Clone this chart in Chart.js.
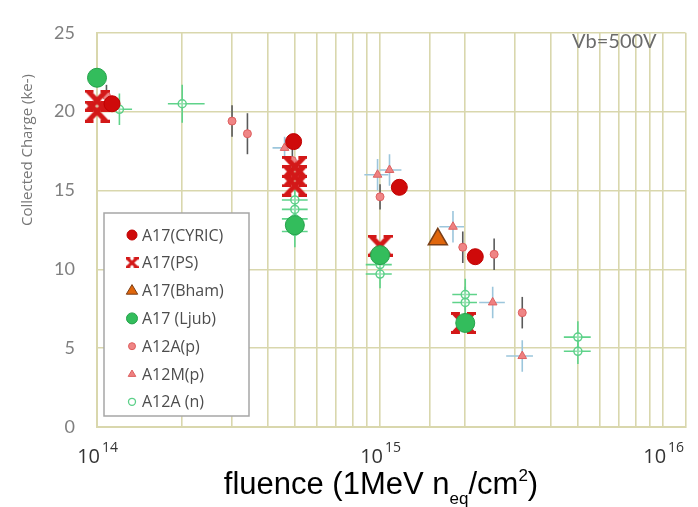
<!DOCTYPE html>
<html>
<head>
<meta charset="utf-8">
<script src="https://cdn.jsdelivr.net/npm/chart.js@4.4.1/dist/chart.umd.min.js"></script>
<style>
  html, body { margin: 0; padding: 0; background: #fff; }
  #wrap { position: relative; width: 698px; height: 507px; }
  #xTitle {
    position: absolute; left: 0; width: 762px; top: 468px;
    text-align: center; line-height: 32px;
    font-family: "Liberation Sans", Arial, sans-serif; font-size: 31px; color: #000;
  }
  #xTitle sub, #xTitle sup { font-size: 17px; vertical-align: baseline; position: relative; }
  #xTitle sub { top: 10px; }
  #xTitle sup { top: -13px; }
</style>
</head>
<body>
<div id="wrap">
  <canvas id="chart" width="698" height="507"></canvas>
  <div id="xTitle">fluence (1MeV n<sub>eq</sub>/cm<sup>2</sup>)</div>
</div>
<script>
// --- DATA ---
// A17(CYRIC)
const cyricX = [1.13e14, 4.95e14, 1.17e15, 2.17e15];
const cyricY = [20.5, 18.1, 15.2, 10.8];
// A17(PS)
const psX = [1.0e14, 1.0e14, 5.0e14, 5.0e14, 5.0e14, 1.0e15, 1.97e15];
const psY = [20.7, 20.0, 16.5, 15.9, 15.3, 11.5, 6.6];
// A17(Bham)
const bhamX = [1.6e15];
const bhamY = [11.9];
// A17 (Ljub)
const ljubX = [1.0e14, 5.0e14, 1.0e15, 2.0e15];
const ljubY = [22.15, 12.8, 10.9, 6.6];
// A12A(p)
const a12apX = [1.08e14, 3.0e14, 3.4e14, 4.9e14, 1.0e15, 1.96e15, 2.53e15, 3.18e15];
const a12apY = [21.0, 19.4, 18.6, 16.9, 14.6, 11.4, 10.95, 7.25];
const a12apYErr = [0.7, 1.0, 1.3, 0.8, 0.8, 1.0, 1.0, 1.0];
// A12M(p)
const a12mpX = [4.6e14, 9.8e14, 1.08e15, 1.81e15, 2.5e15, 3.18e15];
const a12mpY = [17.7, 16.0, 16.3, 12.7, 7.9, 4.5];
const a12mpXLo = [4.17e14, 8.8e14, 1.0e15, 1.62e15, 2.24e15, 2.79e15];
const a12mpXHi = [5.19e14, 1.07e15, 1.19e15, 1.98e15, 2.76e15, 3.47e15];
const a12mpYErr = [0.7, 1.0, 1.0, 1.0, 1.0, 1.0];
// A12A (n)
const a12anX = [1.2e14, 2.0e14, 5.0e14, 5.0e14, 5.0e14, 5.0e14, 1.0e15, 1.0e15, 2.0e15, 2.0e15, 5.0e15, 5.0e15];
const a12anY = [20.15, 20.5, 14.4, 13.8, 13.2, 12.4, 10.3, 9.7, 8.4, 7.9, 5.7, 4.8];
const a12anXLo = [1.09e14, 1.78e14, 4.5e14, 4.5e14, 4.5e14, 4.5e14, 8.9e14, 8.9e14, 1.8e15, 1.8e15, 4.46e15, 4.46e15];
const a12anXHi = [1.33e14, 2.4e14, 5.55e14, 5.55e14, 5.55e14, 5.55e14, 1.1e15, 1.1e15, 2.2e15, 2.2e15, 5.55e15, 5.55e15];
const a12anYErr = [1.0, 1.2, 0.7, 0.7, 0.7, 1.0, 0.9, 0.9, 1.0, 1.0, 1.0, 0.8];

const xTicksShown = [1e14, 1e15, 1e16];
const yMax = 25, yStep = 5;

// zip arrays into points (errors optional)
function pts(xs, ys, yErr, xLo, xHi) {
  return xs.map((x, i) => ({
    x: x, y: ys[i],
    yLo: yErr ? ys[i] - yErr[i] : null, yHi: yErr ? ys[i] + yErr[i] : null,
    xLo: xLo ? xLo[i] : null, xHi: xHi ? xHi[i] : null
  }));
}

// PS marker: thick X with flat caps on the tips
function makeCross(w, h, lw, capLw) {
  const c = document.createElement('canvas');
  c.width = w; c.height = h;
  const g = c.getContext('2d');
  g.strokeStyle = '#d31818';
  g.lineWidth = lw;
  const m = capLw / 2, ins = w * 0.14, cap = w * 0.36;
  g.beginPath();
  g.moveTo(ins, m); g.lineTo(w - ins, h - m);
  g.moveTo(w - ins, m); g.lineTo(ins, h - m);
  g.stroke();
  g.lineWidth = capLw;
  g.beginPath();
  g.moveTo(0, m); g.lineTo(cap, m);
  g.moveTo(w - cap, m); g.lineTo(w, m);
  g.moveTo(0, h - m); g.lineTo(cap, h - m);
  g.moveTo(w - cap, h - m); g.lineTo(w, h - m);
  g.stroke();
  return c;
}
const psBig = makeCross(25, 22, 5, 3);
const psSmall = makeCross(13, 11, 3, 2.2);

// order: lower number is drawn on top
const datasets = [
  { label: 'A17(CYRIC)', data: pts(cyricX, cyricY), pointStyle: 'circle', pointRadius: 8, order: 0,
    backgroundColor: '#cf0a0a', borderColor: '#c00000', borderWidth: 1, lg: { shape: 'circle', r: 5 } },
  { label: 'A17(PS)', data: pts(psX, psY), pointStyle: psBig, pointRadius: 10, order: 3,
    backgroundColor: '#d31818', borderColor: '#d31818', lg: { shape: 'img', img: psSmall } },
  { label: 'A17(Bham)', data: pts(bhamX, bhamY), pointStyle: 'triangle', pointRadius: 11, order: 2,
    backgroundColor: '#e0660c', borderColor: '#7a3f18', borderWidth: 1.5, lg: { shape: 'triangle', r: 6 } },
  { label: 'A17 (Ljub)', data: pts(ljubX, ljubY), pointStyle: 'circle', pointRadius: 9.5, order: 1,
    backgroundColor: '#33bd5c', borderColor: '#25a24b', borderWidth: 1, lg: { shape: 'circle', r: 5.5 } },
  { label: 'A12A(p)', data: pts(a12apX, a12apY, a12apYErr), pointStyle: 'circle', pointRadius: 4, order: 4,
    backgroundColor: '#ef8585', borderColor: '#de5e5e', borderWidth: 1, errColor: '#5a5a5a', lg: { shape: 'circle', r: 3.5 } },
  { label: 'A12M(p)', data: pts(a12mpX, a12mpY, a12mpYErr, a12mpXLo, a12mpXHi), pointStyle: 'triangle', pointRadius: 5, order: 5,
    backgroundColor: '#ef8080', borderColor: '#dc6262', borderWidth: 1, errColor: '#9cc6dc', lg: { shape: 'triangle', r: 4 } },
  { label: 'A12A (n)', data: pts(a12anX, a12anY, a12anYErr, a12anXLo, a12anXHi), pointStyle: 'circle', pointRadius: 4, order: 6,
    backgroundColor: 'rgba(255,255,255,0.3)', borderColor: '#5cd089', borderWidth: 1.5, errColor: '#5fd38a', lg: { shape: 'ring', r: 3.5 } }
].map(ds => Object.assign(ds, { clip: false }));

// error bars drawn under the markers, through the chart scales
const errorBars = {
  id: 'errorBars',
  beforeDatasetsDraw(chart) {
    const { ctx, scales: { x, y } } = chart;
    ctx.save();
    ctx.lineWidth = 1.6;
    chart.data.datasets.forEach(ds => {
      if (!ds.errColor) return;
      ctx.strokeStyle = ds.errColor;
      ds.data.forEach(p => {
        const px = x.getPixelForValue(p.x), py = y.getPixelForValue(p.y);
        ctx.beginPath();
        if (p.yLo != null) {
          ctx.moveTo(px, y.getPixelForValue(p.yLo));
          ctx.lineTo(px, y.getPixelForValue(p.yHi));
        }
        if (p.xLo != null) {
          ctx.moveTo(x.getPixelForValue(p.xLo), py);
          ctx.lineTo(x.getPixelForValue(p.xHi), py);
        }
        ctx.stroke();
      });
    });
    ctx.restore();
  }
};

function legendMarker(ctx, ds, cx, cy) {
  const lg = ds.lg;
  ctx.save();
  ctx.fillStyle = ds.backgroundColor;
  ctx.strokeStyle = ds.borderColor;
  ctx.lineWidth = 1;
  if (lg.shape === 'img') {
    ctx.drawImage(lg.img, cx - lg.img.width / 2, cy - lg.img.height / 2);
  } else if (lg.shape === 'triangle') {
    ctx.beginPath();
    ctx.moveTo(cx, cy - lg.r);
    ctx.lineTo(cx + lg.r * 0.95, cy + lg.r * 0.6);
    ctx.lineTo(cx - lg.r * 0.95, cy + lg.r * 0.6);
    ctx.closePath();
    ctx.fill(); ctx.stroke();
  } else {
    ctx.beginPath();
    ctx.arc(cx, cy, lg.r, 0, Math.PI * 2);
    if (lg.shape === 'ring') { ctx.lineWidth = 1.3; ctx.stroke(); }
    else { ctx.fill(); ctx.stroke(); }
  }
  ctx.restore();
}

// texts and legend box
const decorations = {
  id: 'decorations',
  afterDraw(chart) {
    const { ctx, scales: { x } } = chart;
    ctx.save();

    // x tick labels 10^n
    ctx.fillStyle = '#333';
    ctx.textBaseline = 'alphabetic';
    xTicksShown.forEach(v => {
      const px = x.getPixelForValue(v);
      ctx.font = '20px "Open Sans"';
      ctx.textAlign = 'right';
      ctx.fillText('10', px + 3, 463);
      ctx.font = '14px "Open Sans"';
      ctx.textAlign = 'left';
      ctx.fillText(String(Math.round(Math.log10(v))), px + 5, 452);
    });

    // y title
    ctx.save();
    ctx.translate(32, 150);
    ctx.rotate(-Math.PI / 2);
    ctx.font = '15px "Open Sans"';
    ctx.fillStyle = '#777';
    ctx.textAlign = 'center';
    ctx.fillText('Collected Charge (ke-)', 0, 0);
    ctx.restore();

    // bias note
    ctx.font = '20px Lato';
    ctx.fillStyle = '#6b6b6b';
    ctx.textAlign = 'left';
    ctx.fillText('Vb=500V', 572, 48);

    // legend
    const lx = 104, ly = 213, lw = 145, lh = 203;
    ctx.fillStyle = '#fff';
    ctx.fillRect(lx, ly, lw, lh);
    ctx.strokeStyle = '#a6a6a6';
    ctx.lineWidth = 1.5;
    ctx.strokeRect(lx, ly, lw, lh);
    ctx.font = '16px "Open Sans"';
    ctx.textBaseline = 'middle';
    chart.data.datasets.forEach((ds, i) => {
      const cy = 235 + i * 27.8;
      legendMarker(ctx, ds, 132, cy);
      ctx.fillStyle = '#4d4d4d';
      ctx.textAlign = 'left';
      ctx.fillText(ds.label, 142, cy + 1);
    });
    ctx.restore();
  }
};

const gridColor = '#d9d7ad';

new Chart(document.getElementById('chart'), {
  type: 'scatter',
  data: { datasets: datasets },
  options: {
    responsive: false,
    animation: false,
    layout: { padding: { top: 14, right: 11, left: 0, bottom: 0 } },
    plugins: { legend: { display: false }, tooltip: { enabled: false } },
    scales: {
      x: {
        type: 'logarithmic', min: 1e14, max: 1.2e16,
        grid: { color: gridColor, lineWidth: 1.6, drawTicks: false },
        border: { color: gridColor, width: 2 },
        ticks: { display: false },
        afterFit: s => { s.height = 80; }
      },
      y: {
        min: 0, max: yMax,
        grid: { color: gridColor, lineWidth: 1.6, drawTicks: false },
        border: { color: gridColor, width: 2 },
        ticks: { stepSize: yStep, padding: 22, color: '#7f7f7f', font: { family: 'Lato', size: 18 } },
        afterFit: s => { s.width = 97; }
      }
    }
  },
  plugins: [errorBars, decorations]
});
</script>
</body>
</html>
